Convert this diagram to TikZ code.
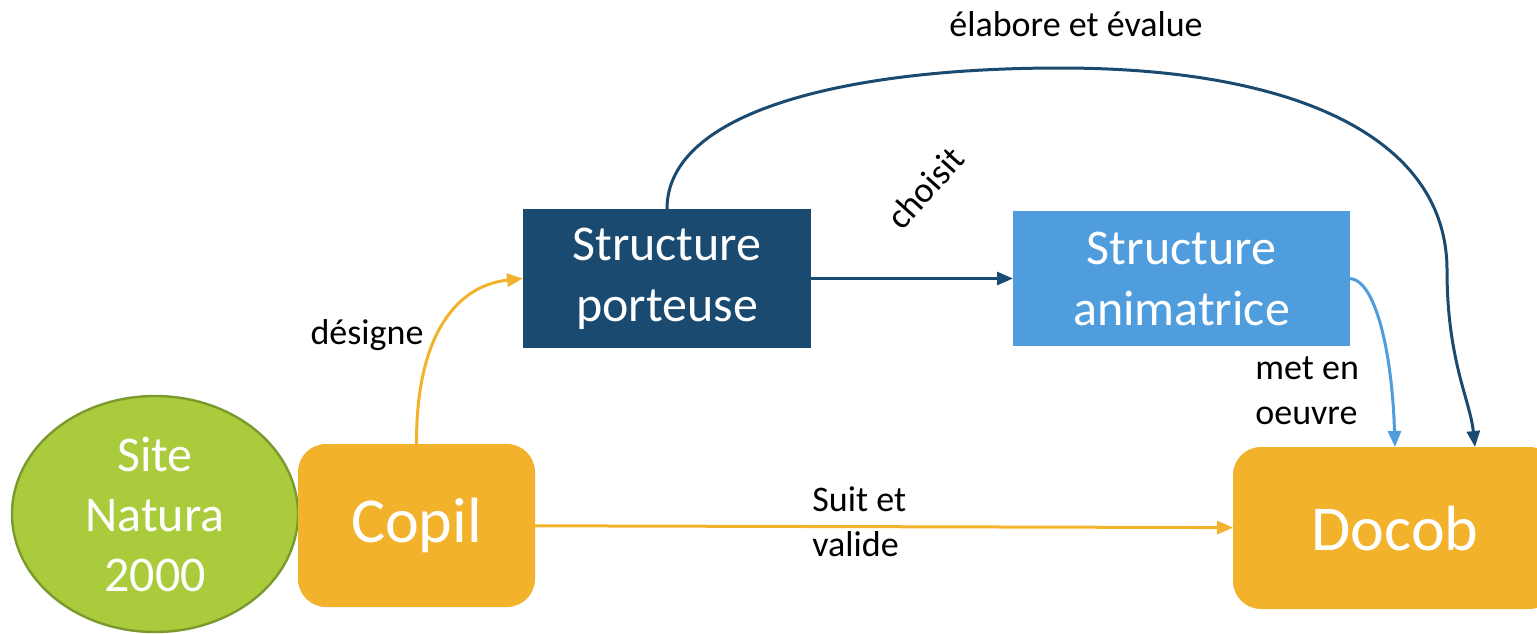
\documentclass[tikz,border=0pt]{standalone}
\usepackage{fontspec}
\setmainfont{Carlito}
\usepackage{tikz}
\usetikzlibrary{positioning,shapes.geometric,arrows.meta}
\definecolor{natgreen}{HTML}{AACB3B}
\definecolor{natgreendark}{HTML}{7B9A2E}
\definecolor{copilorange}{HTML}{F2B22C}
\definecolor{darkblue}{HTML}{1A4A6F}
\definecolor{lightblue}{HTML}{4F9DDC}

\begin{document}
\begin{tikzpicture}
    [x=0.5pt,y=-0.5pt,
     box/.style={outer sep=0,inner sep=0,text=white,align=center,
                 font=\fontsize{25}{30.5}\selectfont},
     big/.style={box,fill=copilorange,rounded corners=14pt,
                 font=\fontsize{32}{38}\selectfont},
     sp/.style={box,fill=darkblue},
     sa/.style={box,fill=lightblue},
     lbl/.style={font=\fontsize{18}{22.5}\selectfont,align=left,inner sep=0},
     link/.style={line width=1.5pt,-{Triangle[length=8pt,width=6.5pt]}}]
    \useasboundingbox (0,0) rectangle (1537,633);

    \node[box,ellipse,fill=natgreen,draw=natgreendark,line width=1.2pt,
          minimum width=143pt,minimum height=118pt,
          font=\fontsize{25}{30}\selectfont] (site) at (155,514)
          {Site\\Natura\\2000};
    \node[big,minimum width=118.5pt,minimum height=81.5pt] (copil)
          at (416.5,525.5) {Copil};
    \node[sp,minimum width=144pt,minimum height=69.5pt] (porteuse)
          at (667,278.5) {Structure\\porteuse};
    \node[sa,minimum width=168.5pt,minimum height=67.5pt] (animatrice)
          at (1181.5,278.5) {Structure\\animatrice};
    \node[big,minimum width=162pt,minimum height=81pt] (docob)
          at (1395,528) {Docob};

    \draw[link,copilorange] (copil.north)
          .. controls (416,330) and (460,285) .. (porteuse.west);
    \draw[link,darkblue] (porteuse) -- (animatrice);
    \draw[link,copilorange] (copil) -- (docob);
    \draw[link,darkblue] (porteuse.north)
          .. controls (667,110) and (850,68) .. (1060,68)
          .. controls (1300,68) and (1447,140) .. (1447,270)
          .. controls (1447,360) and (1470,400) .. ([xshift=40pt]docob.north);
    \draw[link,lightblue] (animatrice.east)
          .. controls (1375,280) and (1392,350) .. (docob.north);

    \node[lbl] (elabore) at (1076,24) {élabore et évalue};
    \node[lbl,rotate=48] (choisit) at (925,188) {choisit};
    \node[lbl] (designe) at (367,335) {désigne};
    \node[lbl,anchor=west] (oeuvre) at (1255,391) {met en\\oeuvre};
    \node[lbl,anchor=west] (valide) at (812,522) {Suit et\\valide};
\end{tikzpicture}
\end{document}
